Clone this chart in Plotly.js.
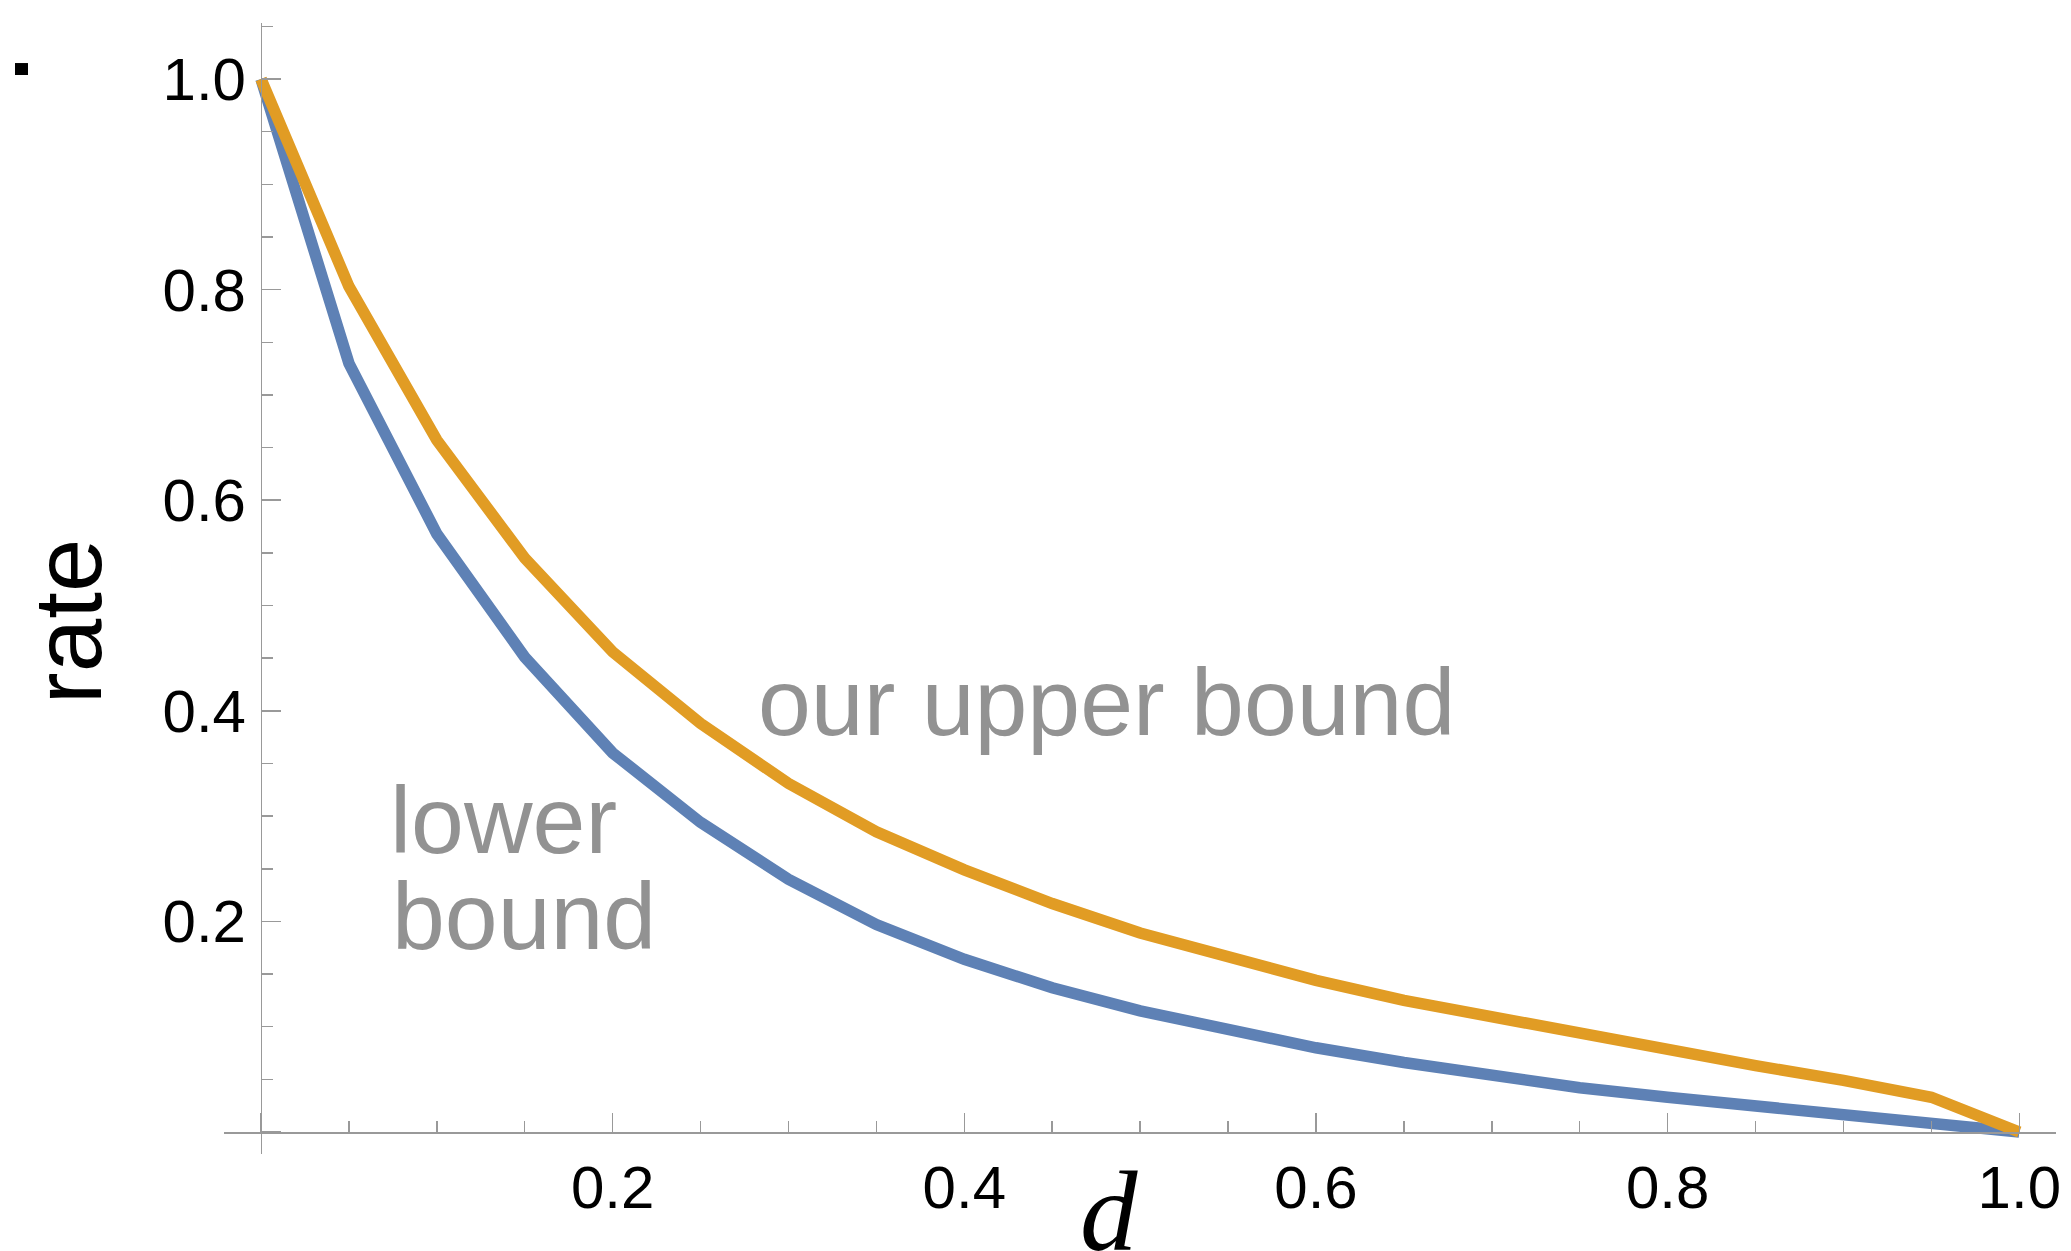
<!DOCTYPE html>
<html>
<head>
<meta charset="utf-8">
<script src="https://cdn.plot.ly/plotly-3.0.1.min.js"></script>
<style>
html,body{margin:0;padding:0;background:#ffffff;overflow:hidden;}
#chart{width:2071px;height:1251px;}
</style>
</head>
<body>
<div id="chart"></div>
<script>
// ---- data ----
const dValues = [0, 0.05, 0.1, 0.15, 0.2, 0.25, 0.3, 0.35, 0.4, 0.45, 0.5,
                 0.55, 0.6, 0.65, 0.7, 0.75, 0.8, 0.85, 0.9, 0.95, 1.0];
const lowerBound = [1.0, 0.730, 0.568, 0.451, 0.360, 0.294, 0.240, 0.197, 0.164, 0.137, 0.115,
                    0.097, 0.080, 0.066, 0.053, 0.042, 0.033, 0.025, 0.017, 0.007, 0.0];
const upperBound = [1.0, 0.803, 0.657, 0.545, 0.456, 0.388, 0.331, 0.285, 0.249, 0.217, 0.189,
                    0.166, 0.144, 0.125, 0.109, 0.093, 0.079, 0.063, 0.049, 0.033, 0.0];
const xLabelText = "d";
const yLabelText = "rate";
const lowerLabel = ["lower", "bound"];
const upperLabel = "our upper bound";

// ---- styling ----
const blue = "#5E81B5";
const orange = "#E19C24";
const axisGray = "#999999";
const textGray = "#929292";
const xr = [-0.02104, 1.02087];
const yr = [-0.02089, 1.0532];

const traces = [
  {x: dValues, y: lowerBound, type: "scatter", mode: "lines", name: "lower bound",
   line: {color: blue, width: 11.5}, hoverinfo: "skip"},
  {x: dValues, y: upperBound, type: "scatter", mode: "lines", name: "our upper bound",
   line: {color: orange, width: 11.5}, hoverinfo: "skip"}
];

const axisCommon = {
  showgrid: false, zeroline: false, showline: true,
  linecolor: axisGray, linewidth: 1.5,
  tickmode: "linear", tick0: 0, dtick: 0.2, tickformat: ".1f",
  labelalias: {"0.0": ""},
  ticks: "inside", ticklen: 19, tickwidth: 1.5, tickcolor: axisGray,
  minor: {ticks: "inside", ticklen: 11, tickwidth: 1.5, tickcolor: axisGray,
          tickmode: "linear", tick0: 0, dtick: 0.05, showgrid: false},
  tickfont: {family: "Liberation Sans, Arial, sans-serif", size: 60, color: "#000000"},
  fixedrange: true
};

const layout = {
  width: 2071, height: 1251,
  margin: {l: 224, r: 15, t: 23, b: 97, pad: 0},
  paper_bgcolor: "#ffffff", plot_bgcolor: "#ffffff",
  showlegend: false,
  xaxis: Object.assign({}, axisCommon, {
    range: xr, anchor: "free",
    position: (0 - yr[0]) / (yr[1] - yr[0]),
    ticklabelstandoff: 2
  }),
  yaxis: Object.assign({}, axisCommon, {
    range: yr, anchor: "free",
    position: (0 - xr[0]) / (xr[1] - xr[0]),
    ticklabelstandoff: 3
  }),
  annotations: [
    {text: upperLabel, xref: "x", yref: "y", x: 0.2816, y: 0.4606,
     xanchor: "left", yanchor: "top", showarrow: false,
     font: {family: "Liberation Sans, Arial, sans-serif", size: 95, color: textGray}},
    {text: lowerLabel[0], xref: "x", yref: "y", x: 0.0725, y: 0.3485,
     xanchor: "left", yanchor: "top", showarrow: false,
     font: {family: "Liberation Sans, Arial, sans-serif", size: 95, color: textGray}},
    {text: lowerLabel[1], xref: "x", yref: "y", x: 0.0731, y: 0.2574,
     xanchor: "left", yanchor: "top", showarrow: false,
     font: {family: "Liberation Sans, Arial, sans-serif", size: 95, color: textGray}},
    {text: yLabelText, xref: "paper", yref: "paper", x: -0.0850, y: 0.4705,
     xanchor: "center", yanchor: "middle", textangle: -90, showarrow: false,
     font: {family: "Liberation Sans, Arial, sans-serif", size: 96, color: "#000000"}},
    {text: xLabelText, xref: "paper", yref: "paper", x: 0.4830, y: 0.0071,
     xanchor: "center", yanchor: "top", showarrow: false,
     font: {family: "Liberation Serif, Times New Roman, serif", size: 115, color: "#000000", style: "italic"}}
  ],
  shapes: [
    {type: "rect", xref: "paper", yref: "paper",
     x0: -0.1141, x1: -0.1070, y0: 0.954, y1: 0.9646,
     fillcolor: "#000000", line: {width: 0}}
  ]
};

Plotly.newPlot("chart", traces, layout, {displayModeBar: false, staticPlot: true});
</script>
</body>
</html>
